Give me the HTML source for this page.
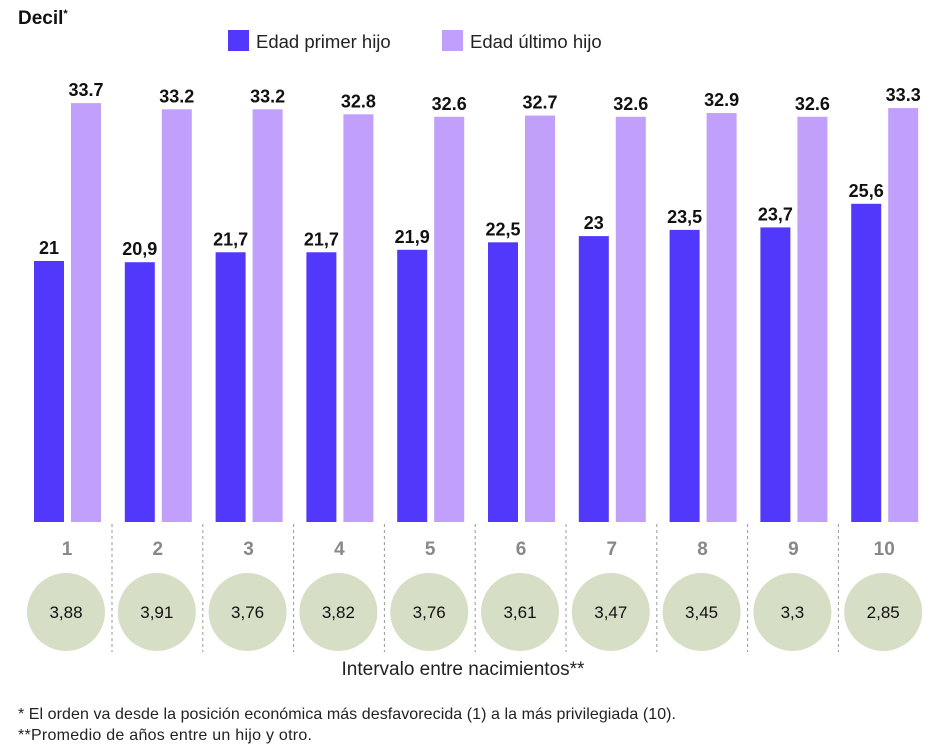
<!DOCTYPE html>
<html><head><meta charset="utf-8"><style>
body{margin:0;background:#fff;width:941px;height:750px;overflow:hidden;font-family:"Liberation Sans",sans-serif}
svg text{font-family:"Liberation Sans",sans-serif}
</style></head><body>
<svg id="c" width="941" height="750">
<text x="18" y="24" font-size="19" font-weight="bold" fill="#111">Decil<tspan font-size="11" dy="-7">*</tspan></text>
<rect x="228" y="30" width="21" height="21" fill="#5238fb"/>
<text x="256" y="48" font-size="18.5" fill="#222">Edad primer hijo</text>
<rect x="442" y="30" width="21" height="21" fill="#c0a0fb"/>
<text x="470" y="48" font-size="18.5" fill="#222">Edad último hijo</text>
<text x="463" y="675" font-size="19" text-anchor="middle" fill="#222">Intervalo entre nacimientos**</text>
<text x="18" y="719" font-size="16" fill="#222" textLength="658">* El orden va desde la posición económica más desfavorecida (1) a la más privilegiada (10).</text>
<text x="18" y="740" font-size="16" fill="#222" textLength="294">**Promedio de años entre un hijo y otro.</text>
<g id="g"></g>
</svg>
<script>
const deciles=["1","2","3","4","5","6","7","8","9","10"];
const firstChild=[21,20.9,21.7,21.7,21.9,22.5,23,23.5,23.7,25.6];
const lastChild=[33.7,33.2,33.2,32.8,32.6,32.7,32.6,32.9,32.6,33.3];
const firstLabels=["21","20,9","21,7","21,7","21,9","22,5","23","23,5","23,7","25,6"];
const lastLabels=["33.7","33.2","33.2","32.8","32.6","32.7","32.6","32.9","32.6","33.3"];
const intervals=["3,88","3,91","3,76","3,82","3,76","3,61","3,47","3,45","3,3","2,85"];
const NS="http://www.w3.org/2000/svg",g=document.getElementById('g');
const base=522,k=12.43,x0=21,step=90.8;
const y=v=>base-v*k, gx=i=>x0+i*step;
function mk(t,a,txt){const e=document.createElementNS(NS,t);for(const n in a)e.setAttribute(n,a[n]);if(txt!=null)e.textContent=txt;g.appendChild(e);return e;}
deciles.forEach((d,i)=>{
 const left=gx(i),cx=left+45;
 let e=mk('rect',{x:left+13,y:y(firstChild[i]),width:30,height:firstChild[i]*k,fill:'#5238fb'});
 
 
 e=mk('rect',{x:left+50,y:y(lastChild[i]),width:30,height:lastChild[i]*k,fill:'#c0a0fb'});
 
 
 e=mk('text',{x:left+28,y:y(firstChild[i])-7,'font-size':18,'font-weight':'bold','text-anchor':'middle',fill:'#111'},firstLabels[i]);
 
 
 e=mk('text',{x:left+65,y:y(lastChild[i])-7,'font-size':18,'font-weight':'bold','text-anchor':'middle',fill:'#111'},lastLabels[i]);
 
 
 e=mk('text',{x:cx+1,y:555,'font-size':19,'font-weight':'bold','text-anchor':'middle',fill:'#888'},d);
 
 
 e=mk('circle',{cx:cx,cy:612,r:39,fill:'#d6dfc6'});
 
 
 e=mk('text',{x:cx,y:618,'font-size':17,'text-anchor':'middle',fill:'#111'},intervals[i]);
 
 
 if(i<deciles.length-1){
  e=mk('line',{x1:left+91,x2:left+91,y1:524,y2:652,stroke:'#999','stroke-dasharray':'3,3'});
  
  
 }
});
</script>
</body></html>
